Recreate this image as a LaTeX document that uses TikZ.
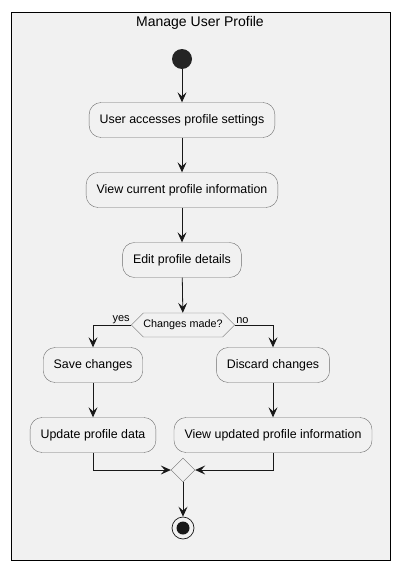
\documentclass[tikz,border=0pt]{standalone}
\usepackage{fontspec}
\setmainfont{Liberation Sans}
\usetikzlibrary{shapes.geometric,shapes.symbols,arrows.meta}

\definecolor{framebg}{HTML}{F1F1F1}
\definecolor{boxline}{HTML}{6E6E6E}
\definecolor{inkline}{HTML}{181818}

\begin{document}
\begin{tikzpicture}[
  x=1pt, y=-1pt,
  arrow/.style={-{Stealth[length=10pt, width=9pt, inset=4pt]}, draw=inkline, line width=0.8pt},
  action/.style={draw=boxline, fill=framebg, rounded corners=12pt, minimum height=35pt,
    inner xsep=10.5pt, font=\fontsize{12.4}{14}\selectfont},
  choice/.style={signal, signal to=east and west, draw=boxline, fill=framebg, minimum height=24pt,
    inner xsep=0pt, font=\fontsize{10.8}{13}\selectfont},
  merge/.style={diamond, draw=boxline, fill=framebg, minimum size=24pt, inner sep=0pt},
  startnode/.style={circle, fill=inkline!95!white, minimum size=20pt, inner sep=0pt},
  stopnode/.style={circle, draw=inkline, fill=framebg, minimum size=22pt, inner sep=0pt, line width=0.7pt},
  label/.style={font=\fontsize{11}{13}\selectfont, inner sep=1pt},
]
\useasboundingbox (0,0) rectangle (401,570);
\fill[white] (0,0) rectangle (401,570);

% === FRAME ===
\draw[fill=framebg, draw=black, line width=0.8pt] (11,12) rectangle (390,560);
\node[font=\fontsize{14}{16}\selectfont] (title) at (200,23) {Manage User Profile};

% === MAIN FLOW ===
\node[startnode] (start) at (182,59) {};
\node[action] (access) at (182,120) {User accesses profile settings};
\node[action] (current) at (182,190) {View current profile information};
\node[action] (edit) at (182,260) {Edit profile details};
\node[choice] (changed) at (183,325) {Changes made?};

% === BRANCHES ===
\node[action] (save) at (93,365) {Save changes};
\node[action] (update) at (93,435) {Update profile data};
\node[action] (discard) at (273,365) {Discard changes};
\node[action] (viewnew) at (273,435) {View updated profile information};

\node[merge] (join) at (183,470) {};
\node[stopnode] (stop) at (183,528) {};
\fill[inkline] (stop.center) circle (6.5pt);

% === CONNECTORS ===
\draw[arrow] (start) -- (access);
\draw[arrow] (access) -- (current);
\draw[arrow] (current) -- (edit);
\draw[arrow] (edit) -- (changed);
\draw[arrow] (changed.west) node[label, above left] {yes} -| (save.north);
\draw[arrow] (changed.east) node[label, above right] {no} -| (discard.north);
\draw[arrow] (save) -- (update);
\draw[arrow] (discard) -- (viewnew);
\draw[arrow] (update.south) |- (join.west);
\draw[arrow] (viewnew.south) |- (join.east);
\draw[arrow] (join) -- (stop);
\end{tikzpicture}
\end{document}
